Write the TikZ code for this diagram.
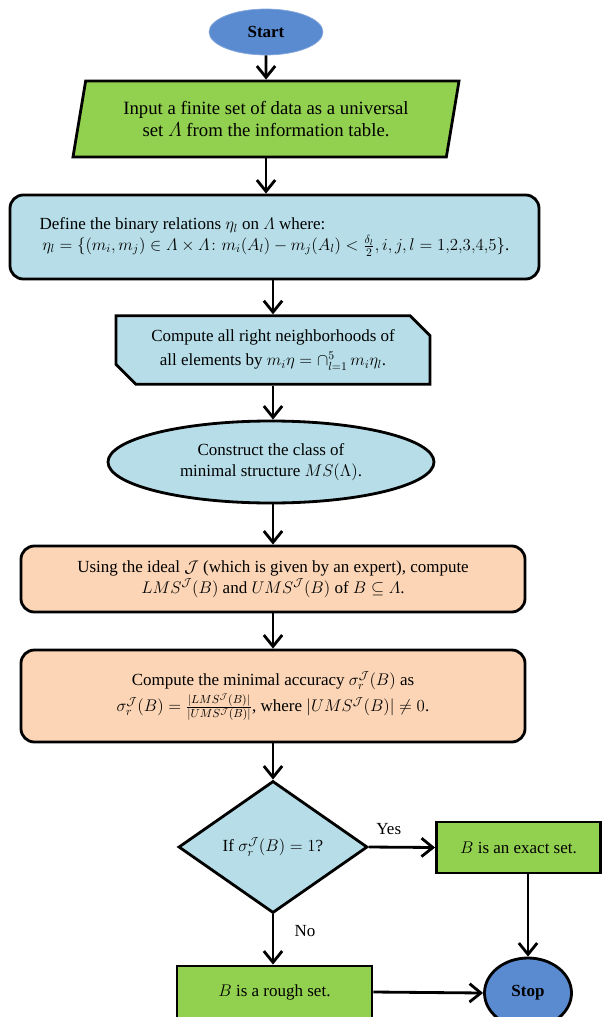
\documentclass[tikz,border=0pt]{standalone}
\usepackage{amsmath,amssymb}
\usepackage{fontspec}
\setmainfont{Liberation Serif}
\usetikzlibrary{shapes.geometric,shapes.misc,arrows.meta}

\definecolor{termblue}{HTML}{5A8BD0}
\definecolor{termedge}{HTML}{86A9DC}
\definecolor{stepgreen}{HTML}{92D050}
\definecolor{stepblue}{HTML}{B7DEE8}
\definecolor{steporange}{HTML}{FBD5B5}

\begin{document}
\begin{tikzpicture}[
    x=0.03cm, y=-0.03cm,
    font=\fontsize{14.5}{17.5}\selectfont,
    box/.style={rectangle, draw, line width=2.4pt, align=center, inner sep=2pt},
    roundbox/.style={box, rounded corners=0.4cm},
    arrow/.style={-{Straight Barb[length=0.34cm, width=0.55cm]}, line width=2.4pt}
]
\useasboundingbox (0,0) rectangle (602,1017);
\clip (0,0) rectangle (602,1017);

% Terminals
\node[ellipse, fill=termblue, draw=termedge, line width=0.6pt, minimum width=3.42cm, minimum height=1.38cm, inner sep=0pt, font=\fontsize{14.5}{17.5}\selectfont\bfseries] (start) at (266, 32) {Start};
\node[ellipse, fill=termblue, draw, line width=2.4pt, minimum width=2.61cm, minimum height=2.1cm, inner sep=0pt, font=\fontsize{14.5}{17.5}\selectfont\bfseries] (stop) at (528, 993) {Stop};

% Input
\node[trapezium, trapezium left angle=74, trapezium right angle=106, trapezium stretches body, draw, line width=2.4pt, fill=stepgreen, minimum width=11.58cm, minimum height=2.28cm, align=center, font=\fontsize{16}{19.5}\selectfont] (input) at (266, 119) {Input a finite set of data as a universal\\ set $\varLambda$ from the information table.};

% Relations and neighborhoods
\node[roundbox, fill=stepblue, minimum width=15.87cm, minimum height=2.52cm, align=left] (relations) at (274.5, 237) {Define the binary relations $\eta_l$ on $\varLambda$ where:\\ \,$\eta_l=\{(m_i,m_j)\in\varLambda\times\varLambda\colon m_i(A_l)-m_j(A_l)<\frac{\delta_l}{2},i,j,l=1{,}2{,}3{,}4{,}5\}$.};
\node[chamfered rectangle, chamfered rectangle corners={north east,south west}, chamfered rectangle xsep=0.3cm, chamfered rectangle ysep=0.3cm, draw, line width=2.4pt, fill=stepblue, minimum width=9.42cm, minimum height=1.98cm, align=center] (neighbors) at (273, 350) {Compute all right neighborhoods of\\[3pt] all elements by $m_i\eta={\cap}_{l=1}^{5}\, m_i\eta_l$.};

% Minimal structure
\node[ellipse, draw, line width=2.4pt, fill=stepblue, minimum width=9.78cm, minimum height=2.46cm, inner sep=0pt, align=center] (minstruct) at (271, 462) {Construct the class of\\ minimal structure $MS(\Lambda)$.};

% Approximations and accuracy
\node[roundbox, fill=steporange, minimum width=15.12cm, minimum height=1.98cm] (approx) at (273, 579) {Using the ideal $\mathcal{J}$ (which is given by an expert), compute\\ $LMS^{\mathcal{J}}(B)$ and $UMS^{\mathcal{J}}(B)$ of $B\subseteq\varLambda$.};
\node[roundbox, fill=steporange, minimum width=15.12cm, minimum height=2.76cm] (accuracy) at (273, 696) {Compute the minimal accuracy $\sigma_r^{\mathcal{J}}(B)$ as\\[2pt] $\sigma_r^{\mathcal{J}}(B)=\frac{|LMS^{\mathcal{J}}(B)|}{|UMS^{\mathcal{J}}(B)|}$, where $|UMS^{\mathcal{J}}(B)|\neq 0$.};

% Decision
\node[diamond, draw, line width=2.4pt, fill=stepblue, minimum width=5.67cm, minimum height=3.96cm, inner sep=0pt, aspect=1.43] (decide) at (273, 847) {If $\sigma_r^{\mathcal{J}}(B)=1$?};
\node[box, fill=stepgreen, minimum width=4.92cm, minimum height=1.53cm] (exact) at (518.5, 847.5) {$B$ is an exact set.};
\node[box, fill=stepgreen, minimum width=5.85cm, minimum height=1.56cm] (rough) at (274.5, 992) {$B$ is a rough set.};

% Arrows
\draw[arrow] (start) -- (input);
\draw[arrow] (input.south) -- (input.south |- relations.north);
\draw[arrow] (neighbors.north |- relations.south) -- (neighbors.north);
\draw[arrow] (neighbors.south) -- (neighbors.south |- minstruct.north);
\draw[arrow] (minstruct.south -| approx) -- (approx.north);
\draw[arrow] (approx) -- (accuracy);
\draw[arrow] (accuracy) -- (decide);
\draw[arrow] (decide.east) -- node[above=6pt, pos=0.3] (yes) {Yes} (exact.west);
\draw[arrow] (decide.south) -- node[right=14pt, pos=0.34] (no) {No} (decide.south |- rough.north);
\draw[arrow] (stop |- exact.south) -- (stop.north);
\draw[arrow] (rough.east) -- (stop.west);

\end{tikzpicture}
\end{document}
